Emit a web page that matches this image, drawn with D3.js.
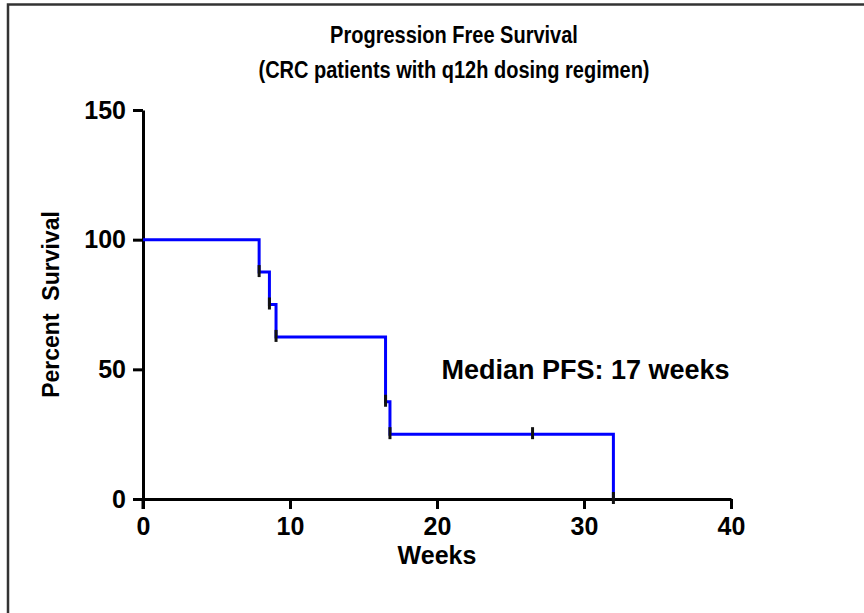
<!DOCTYPE html>
<html>
<head>
<meta charset="utf-8">
<script src="https://cdn.jsdelivr.net/npm/d3@7"></script>
<style>
  body { margin: 0; background: #fff; }
  svg { display: block; font-family: "Liberation Sans", Arial, sans-serif; }
</style>
</head>
<body>
<svg id="chart" width="864" height="613"></svg>
<script>
// ---- data ----
const titleLines = ["Progression Free Survival", "(CRC patients with q12h dosing regimen)"];
const weeks = [0, 7.9, 8.6, 9.05, 16.5, 16.8, 26.5, 32];
const percentSurvival = [100, 87.5, 75, 62.5, 37.5, 25, 25, 0];
const xTicks = [0, 10, 20, 30, 40];
const yTicks = [0, 50, 100, 150];
const xLabel = "Weeks";
const yLabel = "Percent  Survival";
const annotation = "Median PFS: 17 weeks";
const annotationPos = [20.3, 50]; // data coords (left, middle)

const svg = d3.select("#chart");
const x = d3.scaleLinear().domain([0, 40]).range([143, 731]);
const y = d3.scaleLinear().domain([0, 150]).range([499, 110]);

// outer border (top & left visible)
svg.append("path").attr("d", "M8,613 V4.5 H864")
  .attr("fill", "none").attr("stroke", "#333").attr("stroke-width", 2.5);

// title (slightly tall glyphs as in the reference)
svg.append("g").selectAll("text").data(titleLines).join("text")
  .attr("transform", (d, i) => `translate(454,${43 + i * 35}) scale(1,1.15)`)
  .attr("text-anchor", "middle").attr("font-weight", "bold").attr("font-size", 20)
  .attr("fill", "#000").text(d => d);

// axes
const yAxis = svg.append("g").attr("transform", `translate(${x(0)},0)`)
  .call(d3.axisLeft(y).tickValues(yTicks).tickSize(10).tickSizeOuter(0).tickPadding(7));
const xAxis = svg.append("g").attr("transform", `translate(0,${y(0)})`)
  .call(d3.axisBottom(x).tickValues(xTicks).tickSize(10).tickSizeOuter(0).tickPadding(8));
[xAxis, yAxis].forEach(g => {
  g.selectAll("path.domain").attr("stroke", "#000").attr("stroke-width", 3);
  g.selectAll(".tick line").attr("stroke", "#000").attr("stroke-width", 3);
  g.selectAll(".tick text").attr("fill", "#000").attr("font-size", 25)
    .attr("font-weight", "bold").attr("font-family", "Liberation Sans, Arial, sans-serif");
});
// extend y axis slightly below zero to form the cross
svg.append("line").attr("x1", x(0)).attr("x2", x(0)).attr("y1", y(0)).attr("y2", y(0) + 10)
  .attr("stroke", "#000").attr("stroke-width", 3);

// axis labels
svg.append("text").attr("x", x(20)).attr("y", 564).attr("text-anchor", "middle")
  .attr("font-weight", "bold").attr("font-size", 25).attr("fill", "#000").text(xLabel);
svg.append("text").attr("transform", `translate(59,${y(75)}) rotate(-90)`)
  .attr("text-anchor", "middle").attr("font-weight", "bold").attr("font-size", 23)
  .attr("fill", "#000").attr("xml:space", "preserve").style("white-space", "pre").text(yLabel);

// KM step line
const pts = weeks.map((w, i) => [w, percentSurvival[i]]);
const line = d3.line().x(d => x(d[0])).y(d => y(d[1])).curve(d3.curveStepAfter);
svg.append("path").datum(pts).attr("d", line)
  .attr("fill", "none").attr("stroke", "#0000ff").attr("stroke-width", 3);

// symbols (short black ticks) at each data point
svg.append("g").selectAll("line").data(pts.slice(1)).join("line")
  .attr("x1", d => x(d[0])).attr("x2", d => x(d[0]))
  .attr("y1", d => y(d[1]) - 7).attr("y2", d => y(d[1]) + 5)
  .attr("stroke", "#111").attr("stroke-width", 3);

// annotation
svg.append("text").attr("x", x(annotationPos[0])).attr("y", y(annotationPos[1]) + 10)
  .attr("font-weight", "bold").attr("font-size", 27).attr("fill", "#000").text(annotation);
</script>
</body>
</html>
